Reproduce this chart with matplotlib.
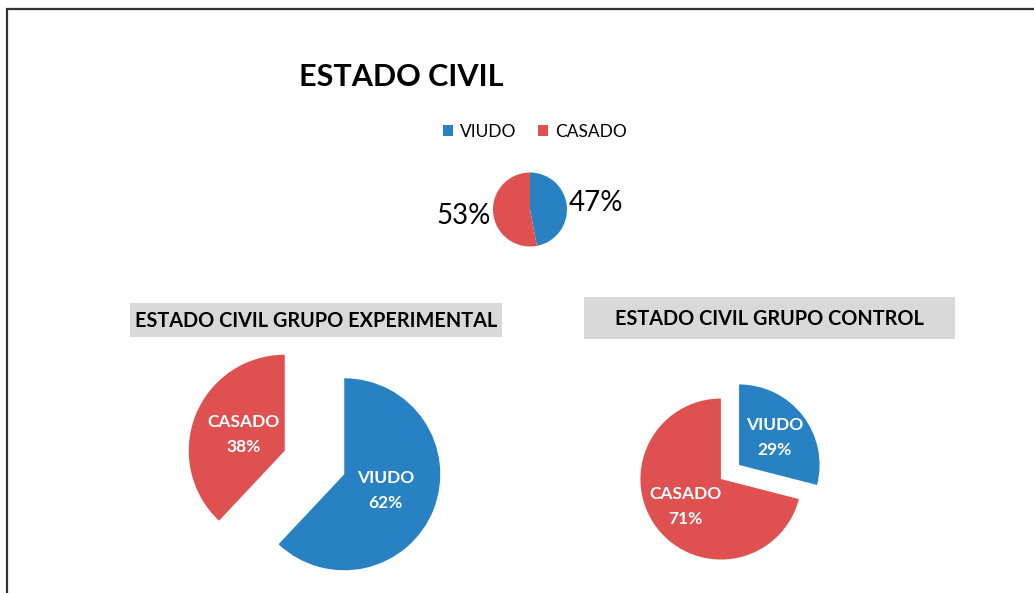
import matplotlib.pyplot as plt
from matplotlib.patches import Rectangle

plt.rcParams["font.family"] = ["Lato", "DejaVu Sans"]

categorias = ["VIUDO", "CASADO"]
total = [47, 53]
experimental = [62, 38]
control = [29, 71]

azul = "#2781C2"
rojo = "#DF5150"
colores = [azul, rojo]

W, H = 1034, 593
fig = plt.figure(figsize=(W / 100, H / 100), dpi=100)
ax = fig.add_axes([0, 0, 1, 1])


def py(y):
    # pixel row (from top) -> data y
    return H - y


# marco de la hoja
ax.add_patch(Rectangle((7, -20), W + 40, py(9) + 20, fill=False,
                       edgecolor="#333333", linewidth=1.6))

# grafico general
ax.text(401, py(77), "ESTADO CIVIL", ha="center", va="center",
        fontsize=22, fontweight="bold")
cuñas, _ = ax.pie(total, labels=[f"{v}%" for v in total], colors=colores,
                  startangle=90, counterclock=False, center=(530, py(209.5)),
                  radius=37, labeldistance=1.8, frame=True,
                  textprops=dict(fontsize=20, color="black", ha="center", va="center"))
ax.legend(cuñas, categorias, loc="center", bbox_to_anchor=(535 / W, 1 - 132 / H),
          bbox_transform=fig.transFigure, ncol=2, frameon=False, fontsize=12.5,
          handlelength=0.6, handleheight=0.6, handletextpad=0.4,
          columnspacing=1.2)

# grupo experimental
ax.add_patch(Rectangle((130, py(337)), 372, 34, facecolor="#D9D9D9", edgecolor="none"))
ax.text(316, py(321), "ESTADO CIVIL GRUPO EXPERIMENTAL", ha="center", va="center",
        fontsize=14.3, fontweight="bold")
ax.pie(experimental, labels=[f"{c}\n{v}%" for c, v in zip(categorias, experimental)],
       colors=colores, startangle=90, counterclock=False, center=(314.5, py(462.5)),
       radius=96, explode=[32, 32], labeldistance=0.46, frame=True,
       textprops=dict(fontsize=12.5, fontweight="bold", color="white",
                      ha="center", va="center", linespacing=1.7))

# grupo control
ax.add_patch(Rectangle((584, py(339)), 371, 42, facecolor="#D9D9D9", edgecolor="none"))
ax.text(769, py(319), "ESTADO CIVIL GRUPO CONTROL", ha="center", va="center",
        fontsize=14.3, fontweight="bold")
ax.pie(control, labels=[f"{c}\n{v}%" for c, v in zip(categorias, control)],
       colors=colores, startangle=90, counterclock=False, center=(730, py(472)),
       radius=80.5, explode=[11.5, 11.5], labeldistance=0.56, frame=True,
       textprops=dict(fontsize=12.5, fontweight="bold", color="white",
                      ha="center", va="center", linespacing=1.7))

ax.set_xlim(0, W)
ax.set_ylim(0, H)
ax.set_aspect("equal")
ax.axis("off")

fig.savefig("out.png", dpi=100)
